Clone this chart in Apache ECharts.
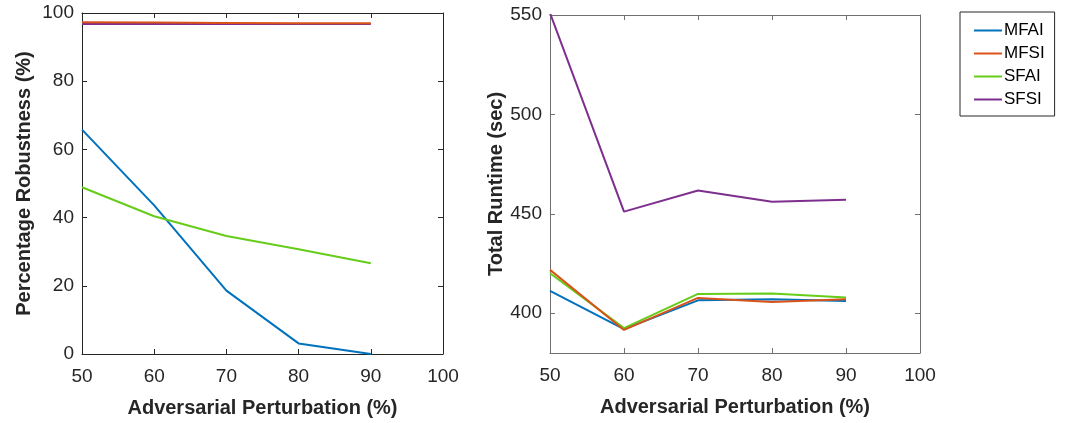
<!DOCTYPE html>
<html>
<head>
<meta charset="utf-8">
<script src="https://cdn.jsdelivr.net/npm/echarts@6/dist/echarts.min.js"></script>
<style>
  html, body { margin: 0; padding: 0; background: #fff; }
  #chart { width: 1069px; height: 423px; }
</style>
</head>
<body>
<div id="chart"></div>
<script>
// x values shared by both panels
const perturbation = [50, 60, 70, 80, 90]
const seriesNames = ['MFAI', 'MFSI', 'SFAI', 'SFSI']
const colors = ['#0072BD', '#D95319', '#66CC1A', '#7E2F8E']

// left panel: percentage robustness
const robMFAI = [65.8, 43.6, 18.6, 3.1, 0]
const robMFSI = [97.3, 97.2, 97.1, 97.0, 97.0]
const robSFAI = [48.9, 40.4, 34.6, 30.7, 26.6]
const robSFSI = [96.8, 96.8, 96.8, 96.8, 96.8]

// right panel: total runtime (sec)
const rtMFAI = [411.2, 392.0, 406.5, 407.0, 406.2]
const rtMFSI = [421.8, 391.6, 407.7, 405.7, 407.0]
const rtSFAI = [420.1, 392.5, 409.7, 409.9, 407.9]
const rtSFSI = [551.0, 451.1, 461.7, 456.1, 457.1]
const runtimeTicks = [400, 450, 500, 550]

const FONT = 'Liberation Sans, Arial, sans-serif'
const textColor = '#262626'

const pair = (xs, ys) => xs.map((x, i) => [x, ys[i]])

const chart = echarts.init(document.getElementById('chart'))

const xBase = (gridIndex, pos, labels, lineColor) => ({
  type: 'value', gridIndex, position: pos, min: 50, max: 100, interval: 10,
  axisLine: { show: true, onZero: false, lineStyle: { color: lineColor, width: 1 } },
  axisTick: { show: true, inside: true, length: 5, lineStyle: { color: lineColor } },
  axisLabel: { show: labels, color: textColor, fontSize: 19, fontFamily: FONT, margin: 13 },
  splitLine: { show: false },
  name: labels ? 'Adversarial Perturbation (%)' : '',
  nameLocation: 'middle', nameGap: 44,
  nameTextStyle: { color: textColor, fontSize: 20, fontWeight: 'bold', fontFamily: FONT }
})

const yBase = (gridIndex, pos, labels, min, max, interval, name, gap, lineColor, ticks) => {
  const ax = {
    type: 'value', gridIndex, position: pos, min, max, interval,
    axisLine: { show: true, onZero: false, lineStyle: { color: lineColor, width: 1 } },
    axisTick: { show: true, inside: true, length: 5, lineStyle: { color: lineColor } },
    axisLabel: { show: labels, color: textColor, fontSize: 19, fontFamily: FONT, margin: 8 },
    splitLine: { show: false },
    name: labels ? name : '',
    nameLocation: 'middle', nameGap: gap,
    nameTextStyle: { color: textColor, fontSize: 20, fontWeight: 'bold', fontFamily: FONT }
  }
  if (ticks) {
    ax.axisTick.customValues = ticks
    ax.axisLabel.customValues = ticks
  }
  return ax
}

const line = (name, data, i, xi, yi) => ({
  name, type: 'line', data, xAxisIndex: xi, yAxisIndex: yi,
  showSymbol: false, symbol: 'none',
  lineStyle: { color: colors[i], width: 2 },
  itemStyle: { color: colors[i] },
  z: 2 + (i === 1 ? 1 : 0)
})

const leftAxis = '#262626'
const rightAxis = '#707070'

const option = {
  animation: false,
  backgroundColor: '#fff',
  grid: [
    { left: 82, top: 13, right: 626, bottom: 68 },
    { left: 550, top: 15, right: 149, bottom: 70 }
  ],
  xAxis: [
    xBase(0, 'bottom', true, leftAxis),
    xBase(0, 'top', false, leftAxis),
    xBase(1, 'bottom', true, rightAxis),
    xBase(1, 'top', false, rightAxis)
  ],
  yAxis: [
    yBase(0, 'left', true, 0, 100, 20, 'Percentage Robustness (%)', 48, leftAxis),
    yBase(0, 'right', false, 0, 100, 20, '', 0, leftAxis),
    yBase(1, 'left', true, 380, 550, null, 'Total Runtime (sec)', 39, rightAxis, runtimeTicks),
    yBase(1, 'right', false, 380, 550, null, '', 0, rightAxis, runtimeTicks)
  ],
  legend: {
    left: 960, top: 12, orient: 'vertical',
    data: seriesNames,
    itemWidth: 28, itemHeight: 2, itemGap: 6,
    icon: 'rect',
    padding: [10, 10, 8, 14],
    borderColor: '#262626', borderWidth: 1,
    textStyle: { color: '#000', fontSize: 17, fontFamily: FONT, padding: [0, 0, 0, -3] }
  },
  series: [
    line('MFAI', pair(perturbation, robMFAI), 0, 0, 0),
    line('MFSI', pair(perturbation, robMFSI), 1, 0, 0),
    line('SFAI', pair(perturbation, robSFAI), 2, 0, 0),
    line('SFSI', pair(perturbation, robSFSI), 3, 0, 0),
    line('MFAI', pair(perturbation, rtMFAI), 0, 2, 2),
    line('MFSI', pair(perturbation, rtMFSI), 1, 2, 2),
    line('SFAI', pair(perturbation, rtSFAI), 2, 2, 2),
    line('SFSI', pair(perturbation, rtSFSI), 3, 2, 2)
  ]
}

chart.setOption(option)
</script>
</body>
</html>
